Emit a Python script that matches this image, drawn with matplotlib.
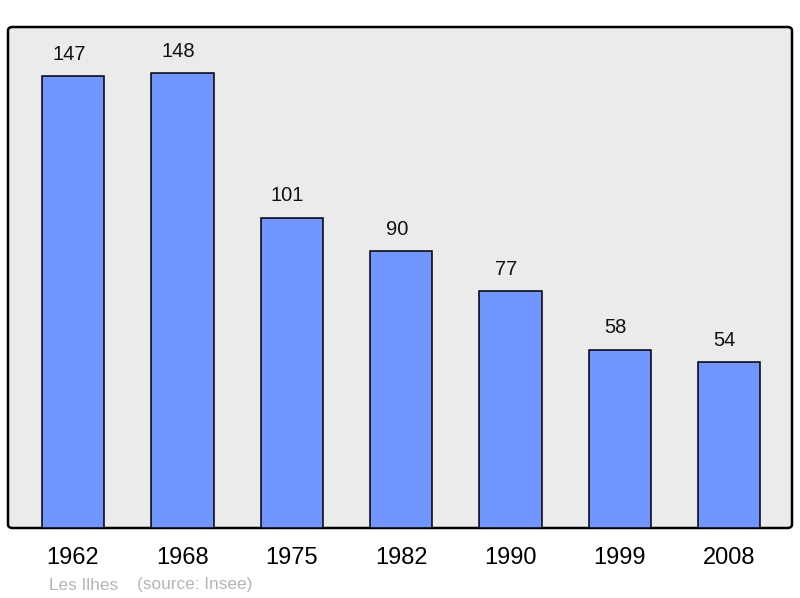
import matplotlib
matplotlib.use("Agg")
import matplotlib.pyplot as plt
from matplotlib.patches import FancyBboxPatch

years = ["1962", "1968", "1975", "1982", "1990", "1999", "2008"]
population = [147, 148, 101, 90, 77, 58, 54]
commune = "Les Ilhes"
source = "(source: Insee)"

plt.rcParams['font.family'] = ['Liberation Sans', 'DejaVu Sans']

fig = plt.figure(figsize=(8, 5.98), dpi=100)
ax = fig.add_axes([8/800, 1 - 528/598, 784/800, 501/598])
ax.set_facecolor('none')

# rounded frame behind the axes
frame = FancyBboxPatch((8/800, 1 - 528/598), 784/800, 501/598,
                       boxstyle="round,pad=0,rounding_size=0.006",
                       transform=fig.transFigure, facecolor='#ebebeb',
                       edgecolor='black', linewidth=1.8, zorder=-1)
fig.patches.append(frame)

x = range(len(years))
ax.bar(x, population, width=0.57, color='#7095ff', edgecolor='black',
       linewidth=1.1, zorder=2)
for xi, v in zip(x, population):
    ax.annotate(str(v), (xi, v), xytext=(-3, 9), textcoords='offset points',
                ha='center', va='bottom', fontsize=14.5, color='#111111')

ax.set_xlim(-0.595, 6.576)
ax.set_ylim(0, 163)
ax.set_yticks([])
ax.set_xticks(list(x))
ax.set_xticklabels(years, fontsize=17)
ax.tick_params(axis='x', length=0, pad=14)
for s in ax.spines.values():
    s.set_visible(False)

fig.text(49/800, 1 - 585/598, commune, color='#b5b5b5', fontsize=12.4, va='center')
fig.text(137/800, 1 - 585/598, source, color='#b5b5b5', fontsize=12.4, va='center')

fig.savefig("out.png", dpi=100)
